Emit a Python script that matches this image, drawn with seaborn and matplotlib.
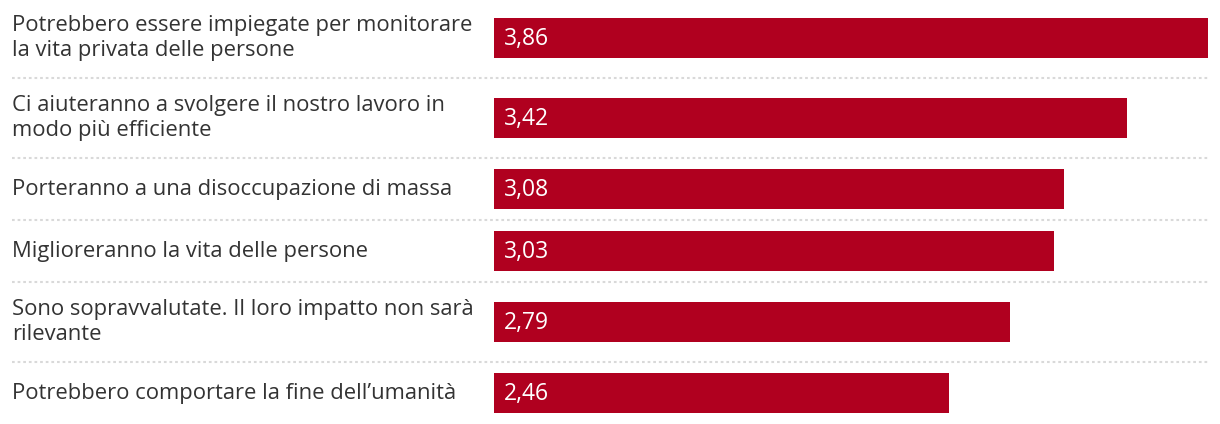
import matplotlib
matplotlib.use("Agg")
import matplotlib.pyplot as plt
from matplotlib.transforms import blended_transform_factory
import seaborn as sns
import numpy as np

categories = [
    "Potrebbero essere impiegate per monitorare\nla vita privata delle persone",
    "Ci aiuteranno a svolgere il nostro lavoro in\nmodo più efficiente",
    "Porteranno a una disoccupazione di massa",
    "Miglioreranno la vita delle persone",
    "Sono sopravvalutate. Il loro impatto non sarà\nrilevante",
    "Potrebbero comportare la fine dell\u2019umanità",
]
values = [3.86, 3.42, 3.08, 3.03, 2.79, 2.46]
value_labels = [f"{v:.2f}".replace(".", ",") for v in values]

BAR_COLOR = "#B0001F"
TEXT_COLOR = "#333333"
SEP_COLOR = "#D9D9D9"

sns.set_theme(style="white")
plt.rcParams["font.family"] = ["Open Sans", "DejaVu Sans"]

W, H = 1220, 424
fig = plt.figure(figsize=(W / 100, H / 100), dpi=100)
left_px, right_px = 494, 1208
ax = fig.add_axes([left_px / W, 0, (right_px - left_px) / W, 1])

# layout: row heights depend on label line count (pixel units on y)
half = {1: 31, 2: 40}
centers, seps = [], []
y = -2
for lab in categories:
    h = half[lab.count("\n") + 1]
    centers.append(y + h)
    y += 2 * h
    seps.append(y)
seps = seps[:-1]

min_gap = np.min(np.diff(centers))
bar_h = 40
sns.barplot(x=values, y=centers, orient="h", native_scale=True,
            width=bar_h / min_gap, color=BAR_COLOR, saturation=1,
            edgecolor="none", linewidth=0, ax=ax)

ax.set_xlim(0, max(values))
ax.set_ylim(H, 0)
ax.axis("off")

# separators spanning label area + bars
xmin = (12 - left_px) / (right_px - left_px)
for s in seps:
    ax.axhline(s, xmin=xmin, xmax=1, color=SEP_COLOR, lw=1.5,
               linestyle=(0, (1.3, 1.4)), clip_on=False)

# category labels
tr = blended_transform_factory(fig.transFigure, ax.transData)
for lab, c in zip(categories, centers):
    ax.text(12 / W, c, lab, transform=tr, ha="left", va="center",
            fontsize=15.8, color=TEXT_COLOR, linespacing=1.2)

# value labels inside bars
tr2 = ax.get_yaxis_transform()
for lab, c in zip(value_labels, centers):
    ax.text(10 / (right_px - left_px), c + 1, lab, transform=tr2, ha="left",
            va="center", fontsize=16.5, color="white")

fig.savefig("out.png", dpi=100)
